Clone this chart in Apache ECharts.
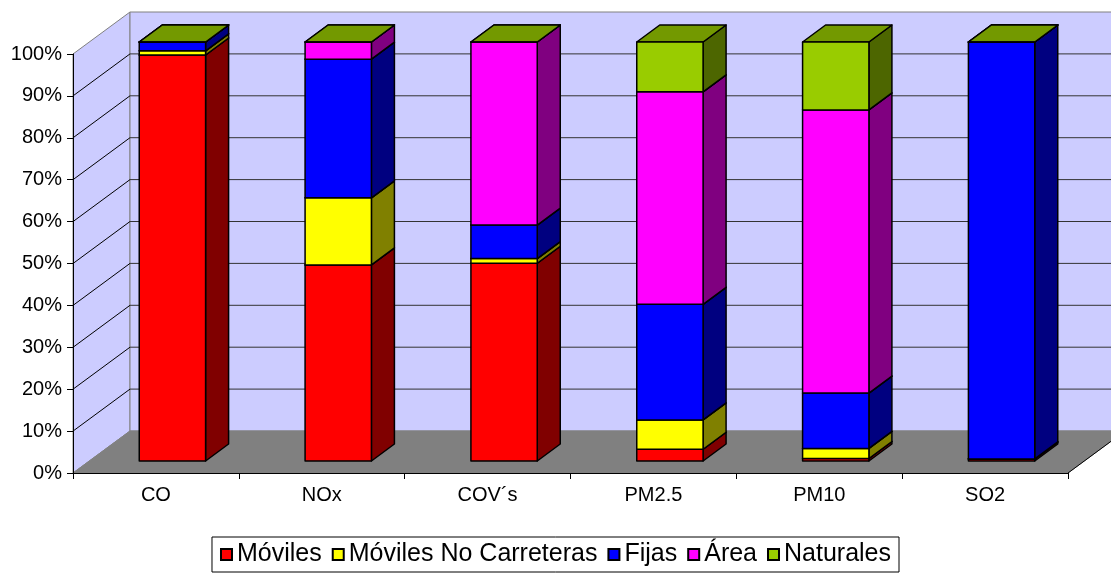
<!DOCTYPE html>
<html>
<head>
<meta charset="utf-8">
<script src="https://cdn.jsdelivr.net/npm/echarts@6/dist/echarts.min.js"></script>
<style>
  html, body { margin: 0; padding: 0; background: #fff; }
  #chart { width: 1111px; height: 575px; }
</style>
</head>
<body>
<div id="chart"></div>
<script>
// categorias y porcentajes
var categories = ["CO", "NOx", "COV´s", "PM2.5", "PM10", "SO2"];
var moviles = [96.9, 46.8, 47.2, 2.8, 0.6, 0.5];
var movilesNoCarreteras = [1.0, 16.0, 1.1, 7.0, 2.4, 0];
var fijas = [2.1, 33.1, 8.0, 27.6, 13.2, 99.5];
var area = [0, 4.1, 43.7, 50.7, 67.6, 0];
var naturales = [0, 0, 0, 11.9, 16.2, 0];
var yTicks = [0, 10, 20, 30, 40, 50, 60, 70, 80, 90, 100];

var seriesDefs = [
  { name: "Móviles", values: moviles, front: "#FF0000", side: "#800000", top: "#BF0000" },
  { name: "Móviles No Carreteras", values: movilesNoCarreteras, front: "#FFFF00", side: "#808000", top: "#BFBF00" },
  { name: "Fijas", values: fijas, front: "#0000FF", side: "#000080", top: "#0000BF" },
  { name: "Área", values: area, front: "#FF00FF", side: "#800080", top: "#BF00BF" },
  { name: "Naturales", values: naturales, front: "#99CC00", side: "#4D6600", top: "#739900" }
];

var FONT = '"Liberation Sans", Arial, sans-serif';
// profundidad 3D (px)
var WALL_DX = 57, WALL_DY = 42;
var BAR_OX = 16.5, BAR_OY = 12;
var BAR_DX = 23, BAR_DY = 17;

var chart = echarts.init(document.getElementById("chart"));

// paredes, piso y lineas de division
function renderFrame(params, api) {
  var cs = params.coordSys;
  var xl = cs.x, xr = cs.x + cs.width;
  var y0 = api.coord([0, 0])[1];
  var y100 = api.coord([0, 100])[1];
  var children = [];
  children.push({
    type: "polygon",
    shape: { points: [[xl, y100], [xl + WALL_DX, y100 - WALL_DY], [xl + WALL_DX, y0 - WALL_DY], [xl, y0]] },
    style: { fill: "#CCCCFF", stroke: "#808080", lineWidth: 1 }
  });
  children.push({
    type: "rect",
    shape: { x: xl + WALL_DX, y: y100 - WALL_DY, width: xr - xl, height: y0 - y100 },
    style: { fill: "#CCCCFF", stroke: "#808080", lineWidth: 1 }
  });
  children.push({
    type: "polygon",
    shape: { points: [[xl, y0], [xl + WALL_DX, y0 - WALL_DY], [xr + WALL_DX, y0 - WALL_DY], [xr, y0]] },
    style: { fill: "#808080", stroke: "#808080", lineWidth: 1 }
  });
  children.push({
    type: "line",
    shape: { x1: xr, y1: y0, x2: xr + WALL_DX, y2: y0 - WALL_DY },
    style: { stroke: "#000", lineWidth: 1 }
  });
  yTicks.forEach(function (v) {
    if (v === 0 || v === 100) return;
    var y = api.coord([0, v])[1];
    children.push({
      type: "line",
      shape: { x1: xl, y1: y, x2: xl + WALL_DX, y2: y - WALL_DY },
      style: { stroke: "#000", lineWidth: 1 }
    });
    children.push({
      type: "line",
      shape: { x1: xl + WALL_DX, y1: y - WALL_DY, x2: xr + WALL_DX, y2: y - WALL_DY },
      style: { stroke: "#333", lineWidth: 1 }
    });
  });
  return { type: "group", children: children };
}

function makeBarRenderer(def) {
  return function (params, api) {
    var c = api.value(0), lo = api.value(1), hi = api.value(2);
    var w = api.size([1, 0])[0] * 0.4;
    var pLo = api.coord([c, lo]);
    var pHi = api.coord([c, hi]);
    var x0 = pLo[0] - w / 2 + BAR_OX, x1 = x0 + w;
    var yb = pLo[1] - BAR_OY, yt = pHi[1] - BAR_OY;
    var line = { stroke: "#000", lineWidth: 1.5, lineJoin: "round" };
    return {
      type: "group",
      children: [
        {
          type: "polygon",
          shape: { points: [[x1, yb], [x1 + BAR_DX, yb - BAR_DY], [x1 + BAR_DX, yt - BAR_DY], [x1, yt]] },
          style: Object.assign({ fill: def.side }, line)
        },
        {
          type: "polygon",
          shape: { points: [[x0, yt], [x1, yt], [x1 + BAR_DX, yt - BAR_DY], [x0 + BAR_DX, yt - BAR_DY]] },
          style: Object.assign({ fill: def.top }, line)
        },
        {
          type: "rect",
          shape: { x: x0, y: yt, width: w, height: yb - yt },
          style: Object.assign({ fill: def.front }, line)
        }
      ]
    };
  };
}

// acumulados para apilar
var base = categories.map(function () { return 0; });
var barSeries = seriesDefs.map(function (def, si) {
  var data = categories.map(function (cat, i) {
    var lo = base[i];
    var hi = lo + def.values[i];
    base[i] = hi;
    return [i, lo, hi];
  });
  return {
    name: def.name,
    type: "custom",
    z: 3 + si,
    itemStyle: { color: def.front, borderColor: "#000", borderWidth: 1 },
    renderItem: makeBarRenderer(def),
    encode: { x: 0, y: [1, 2] },
    data: data
  };
});

var option = {
  animation: false,
  backgroundColor: "#fff",
  grid: { left: 73, right: 43, top: 54, bottom: 102 },
  legend: {
    data: seriesDefs.map(function (d) { return d.name; }),
    left: "center",
    top: 537,
    padding: [5, 8, 5, 8],
    itemGap: 10,
    itemWidth: 11,
    itemHeight: 11,
    icon: "rect",
    borderColor: "#000",
    borderWidth: 1,
    textStyle: { fontFamily: FONT, fontSize: 25, color: "#000" }
  },
  xAxis: {
    type: "category",
    data: categories,
    z: 10,
    axisLine: { lineStyle: { color: "#000", width: 1 } },
    axisTick: { show: true, length: 6, interval: 0, lineStyle: { color: "#000" } },
    axisLabel: { fontFamily: FONT, fontSize: 20, color: "#000", margin: 12 },
    splitLine: { show: false }
  },
  yAxis: {
    type: "value",
    min: 0,
    max: 100,
    interval: 10,
    z: 10,
    axisLine: { show: true, lineStyle: { color: "#000", width: 1 } },
    axisTick: { show: true, length: 6, lineStyle: { color: "#000" } },
    axisLabel: { fontFamily: FONT, fontSize: 20, color: "#000", margin: 11, formatter: "{value}%" },
    splitLine: { show: false }
  },
  series: [
    {
      name: "frame",
      type: "custom",
      z: 1,
      silent: true,
      renderItem: renderFrame,
      data: [[0, 0]]
    }
  ].concat(barSeries)
};

chart.setOption(option);
</script>
</body>
</html>
